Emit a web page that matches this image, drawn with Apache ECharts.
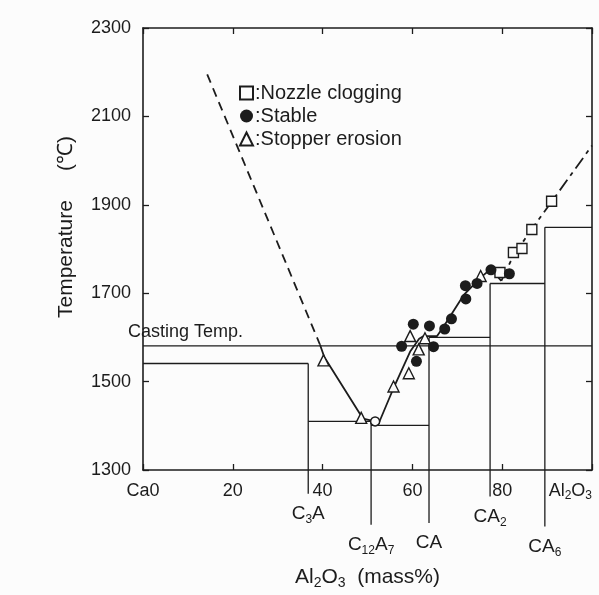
<!DOCTYPE html>
<html>
<head>
<meta charset="utf-8">
<script src="https://cdn.jsdelivr.net/npm/echarts@6/dist/echarts.min.js"></script>
<style>
  html, body { margin: 0; padding: 0; background: #fcfcfc; }
  #chart { width: 599px; height: 595px; }
</style>
</head>
<body>
<div id="chart"></div>
<script>
const INK = "#1c1c1c";
const FONT = "Liberation Sans, Arial, sans-serif";

// axis ticks
const tempMin = 1300;
const tempMax = 2300;
const tempStep = 200;
const xTickValues = [0, 20, 40, 60, 80, 100];
const xTickLabels = ["Ca0", "20", "40", "60", "80", "Al{s|2}O{s|3}"];

// compounds (vertical lines, running below the axis to their labels)
const compounds = ["C{s|3}A", "C{s|12}A{s|7}", "CA", "CA{s|2}", "CA{s|6}"];
const compoundX = [36.8, 50.8, 63.7, 77.3, 89.5];
const compoundTop = [1541, 1410, 1600, 1722, 1849];
const compoundBottom = [1246, 1176, 1180, 1240, 1172];

// horizontal phase boundaries
const shelfT = [1541, 1410, 1401, 1600, 1722, 1849];
const shelfFrom = [0, 36.8, 50.8, 63.7, 77.3, 89.5];
const shelfTo = [36.8, 50.8, 63.7, 77.3, 89.5, 100];

const castingTemp = 1581;

// liquidus
const liqLeftDash = [[14.3, 2195], [39.4, 1584]];
const liqSolid = [
  [39.4, 1584], [40.4, 1555], [49.0, 1416], [51.7, 1410], [52.6, 1408], [56.0, 1490],
  [59.5, 1568], [61.5, 1597], [62.5, 1603], [65.5, 1603], [67.0, 1625],
  [71.5, 1697], [75.5, 1738], [77.5, 1755], [79.8, 1728]
];
const liqRightDash = [[79.8, 1728], [82.5, 1785], [86.6, 1845], [91.0, 1907], [100, 2034]];
const openCircle = [[51.7, 1410]];

// observations
const nozzleClogging = [[79.5, 1747], [82.5, 1792], [84.4, 1801], [86.6, 1844], [91.0, 1908]];
const stable = [
  [57.6, 1580], [60.2, 1630], [63.8, 1626], [64.7, 1579], [60.9, 1546],
  [67.2, 1619], [68.7, 1642], [71.9, 1687], [71.8, 1717], [74.4, 1722],
  [77.5, 1753], [81.6, 1744]
];
const stopperErosion = [
  [40.2, 1548], [48.6, 1418], [55.8, 1489], [59.2, 1519], [59.5, 1603],
  [61.4, 1573], [62.8, 1598], [75.2, 1739]
];

const subRich = {
  s: { fontSize: 12, fontFamily: FONT, color: INK, verticalAlign: "bottom", lineHeight: 24 }
};

const plain = (name, data, extra) => Object.assign({
  type: "line",
  name,
  data,
  symbol: "circle",
  symbolSize: 0,
  clip: false,
  silent: true,
  z: 2,
  lineStyle: { color: INK, width: 1.3 },
  itemStyle: { color: INK }
}, extra || {});

const series = [];

// phase boundary shelves
shelfT.forEach((t, i) => {
  series.push(plain("shelf" + i, [[shelfFrom[i], t], [shelfTo[i], t]]));
});

// compound verticals with their labels under the axis
compounds.forEach((c, i) => {
  series.push(plain("comp" + i, [
    [compoundX[i], compoundTop[i]],
    {
      value: [compoundX[i], compoundBottom[i]],
      label: {
        show: true,
        position: "bottom",
        distance: 8,
        formatter: c,
        fontSize: 19,
        fontFamily: FONT,
        color: INK,
        lineHeight: 24,
        rich: subRich
      }
    }
  ]));
});

// casting temperature
series.push(plain("casting", [
  {
    value: [0, castingTemp],
    label: {
      show: true,
      position: [-15, -23],
      formatter: "Casting Temp.",
      fontSize: 18,
      fontFamily: FONT,
      color: INK
    }
  },
  [100, castingTemp]
]));

// liquidus
series.push(plain("liqLeft", liqLeftDash, {
  lineStyle: { color: INK, width: 1.8, type: [9, 6] }, z: 3
}));
series.push(plain("liqSolid", liqSolid, {
  lineStyle: { color: INK, width: 1.8 }, z: 3
}));
series.push(plain("liqRight", liqRightDash, {
  lineStyle: { color: INK, width: 1.8, type: [13, 5, 4, 5] }, z: 3
}));
series.push({
  type: "scatter",
  name: "minimum",
  data: openCircle,
  symbol: "circle",
  symbolSize: 9,
  silent: true,
  z: 4,
  itemStyle: { color: "#fcfcfc", borderColor: INK, borderWidth: 1.5, opacity: 1 }
});

// observations
series.push({
  type: "scatter",
  name: "Nozzle clogging",
  data: nozzleClogging,
  symbol: "rect",
  symbolSize: 10,
  z: 5,
  itemStyle: { color: "#fcfcfc", borderColor: INK, borderWidth: 1.4, opacity: 1 }
});
series.push({
  type: "scatter",
  name: "Stable",
  data: stable,
  symbol: "circle",
  symbolSize: 11,
  z: 6,
  itemStyle: { color: INK, opacity: 1 }
});
series.push({
  type: "scatter",
  name: "Stopper erosion",
  data: stopperErosion,
  symbol: "triangle",
  symbolSize: 11,
  z: 5,
  itemStyle: { color: "#fcfcfc", borderColor: INK, borderWidth: 1.4, opacity: 1 }
});

// onZero off, otherwise the right axis jumps to x = 0
const axisLine = { show: true, onZero: false, lineStyle: { color: INK, width: 1.6 } };
const tick = { show: true, inside: true, length: 6, lineStyle: { color: INK, width: 1.3 } };

const chart = echarts.init(document.getElementById("chart"));
chart.setOption({
  backgroundColor: "#fcfcfc",
  animation: false,
  textStyle: { fontFamily: FONT },
  grid: { left: 143, right: 7, top: 28, bottom: 119 },
  legend: {
    data: ["Nozzle clogging", "Stable", "Stopper erosion"],
    orient: "vertical",
    left: 234,
    top: 78,
    itemWidth: 13,
    itemHeight: 13,
    itemGap: 3,
    selectedMode: false,
    formatter: (name) => ":" + name,
    textStyle: { fontSize: 20, fontFamily: FONT, color: INK, padding: [0, 0, 0, -3] }
  },
  xAxis: [
    {
      type: "value",
      min: 0,
      max: 100,
      interval: 20,
      name: "Al{s|2}O{s|3}  (mass%)",
      nameLocation: "middle",
      nameGap: 94,
      nameTextStyle: {
        fontSize: 21,
        fontFamily: FONT,
        color: INK,
        lineHeight: 26,
        rich: { s: { fontSize: 14, fontFamily: FONT, color: INK, verticalAlign: "bottom", lineHeight: 26 } }
      },
      axisLine,
      axisTick: tick,
      splitLine: { show: false },
      axisLabel: {
        fontSize: 18,
        color: INK,
        margin: 10,
        lineHeight: 22,
        rich: { s: { fontSize: 12, fontFamily: FONT, color: INK, verticalAlign: "bottom", lineHeight: 22 } },
        alignMaxLabel: "right",
        formatter: (v) => xTickLabels[xTickValues.indexOf(v)] || ""
      }
    },
    {
      type: "value",
      position: "top",
      min: 0,
      max: 100,
      interval: 20,
      axisLine,
      axisTick: tick,
      axisLabel: { show: false },
      splitLine: { show: false }
    }
  ],
  yAxis: [
    {
      type: "value",
      min: tempMin,
      max: tempMax,
      interval: tempStep,
      name: "Temperature     (\u2103)",
      nameLocation: "middle",
      nameRotate: 90,
      nameGap: 66,
      nameTextStyle: { fontSize: 21, fontFamily: FONT, color: INK, padding: [0, 0, 0, 44] },
      axisLine,
      axisTick: tick,
      splitLine: { show: false },
      axisLabel: {
        fontSize: 18,
        color: INK,
        margin: 12,
        formatter: (v) => String(v)
      }
    },
    {
      type: "value",
      position: "right",
      min: tempMin,
      max: tempMax,
      interval: tempStep,
      axisLine,
      axisTick: tick,
      axisLabel: { show: false },
      splitLine: { show: false }
    }
  ],
  series
});
</script>
</body>
</html>
